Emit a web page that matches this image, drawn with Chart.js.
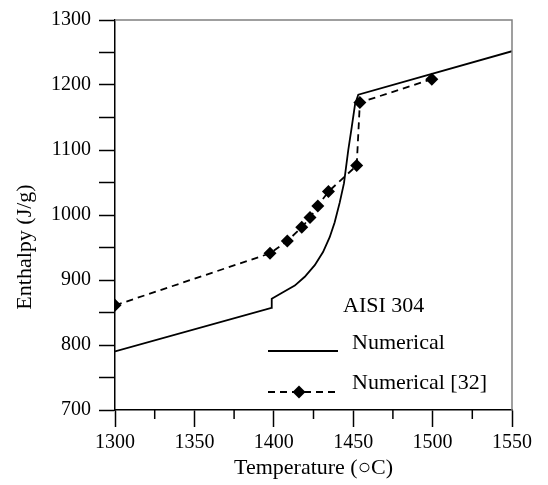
<!DOCTYPE html>
<html>
<head>
<meta charset="utf-8">
<script src="https://cdn.jsdelivr.net/npm/chart.js@4.4.1/dist/chart.umd.min.js"></script>
<style>
html,body{margin:0;padding:0;background:#fff;}
canvas{display:block;}
</style>
</head>
<body>
<canvas id="c" width="548" height="485"></canvas>
<script>
// Data
const numericalT = [1300, 1398.5, 1398.7, 1404.7, 1413.2, 1419.5, 1425.8, 1431, 1435.2, 1438.3, 1441.5, 1444.2, 1446.9, 1449.1, 1451.2, 1453.2, 1550];
const numericalH = [790, 857, 871, 879.7, 891.4, 905, 922.8, 943, 965.8, 988.6, 1019, 1049, 1100, 1135.5, 1171, 1185, 1252];
const refT = [1300, 1397.6, 1408.5, 1417.6, 1422.8, 1427.7, 1434.4, 1452.2, 1454.2, 1499.5];
const refH = [861, 941, 960, 981, 996, 1014, 1036, 1076, 1173, 1209];
const xTicks = [1300, 1350, 1400, 1450, 1500, 1550];
const xMinorTicks = [1325, 1375, 1425, 1475, 1525];
const yTicks = [700, 800, 900, 1000, 1100, 1200, 1300];
const seriesNames = ['Numerical', 'Numerical [32]'];
const annotationText = 'AISI 304';
const xTitle = 'Temperature (\u25CBC)';
const yTitle = 'Enthalpy (J/g)';

const FONT = '"Liberation Serif", "Times New Roman", serif';

const toPts = (xs, ys) => xs.map((x, i) => ({x: x, y: ys[i]}));

const extras = {
  id: 'extras',
  afterDraw(chart) {
    const ctx = chart.ctx;
    const a = chart.chartArea;
    const xs = chart.scales.x;
    ctx.save();
    // top and right frame
    ctx.strokeStyle = '#808080';
    ctx.lineWidth = 1.5;
    ctx.beginPath();
    ctx.moveTo(a.left, a.top);
    ctx.lineTo(a.right, a.top);
    ctx.lineTo(a.right, a.bottom);
    ctx.stroke();
    // minor x ticks
    ctx.strokeStyle = '#000';
    ctx.lineWidth = 1.5;
    xMinorTicks.forEach(v => {
      const px = xs.getPixelForValue(v);
      ctx.beginPath();
      ctx.moveTo(px, a.bottom);
      ctx.lineTo(px, a.bottom + 9);
      ctx.stroke();
    });
    // y title
    ctx.fillStyle = '#000';
    ctx.font = '22px ' + FONT;
    ctx.textAlign = 'center';
    ctx.textBaseline = 'middle';
    ctx.translate(25, a.bottom - 163);
    ctx.rotate(-Math.PI / 2);
    ctx.fillText(yTitle, 0, 0);
    ctx.restore();

    // legend block
    ctx.save();
    ctx.fillStyle = '#000';
    ctx.strokeStyle = '#000';
    ctx.font = '22px ' + FONT;
    ctx.textAlign = 'left';
    ctx.textBaseline = 'middle';
    const lx0 = a.left + 153, lx1 = a.left + 223, tx = a.left + 237;
    ctx.fillText(annotationText, a.left + 228, a.top + 286);
    ctx.fillText(seriesNames[0], tx, a.top + 323);
    ctx.fillText(seriesNames[1], tx, a.top + 363);
    ctx.lineWidth = 1.8;
    ctx.beginPath();
    ctx.moveTo(lx0, a.top + 331);
    ctx.lineTo(lx1, a.top + 331);
    ctx.stroke();
    ctx.setLineDash([7, 5]);
    ctx.beginPath();
    ctx.moveTo(lx0, a.top + 372);
    ctx.lineTo(lx1, a.top + 372);
    ctx.stroke();
    ctx.setLineDash([]);
    const dx = a.left + 184, dy = a.top + 372, r = 6.5;
    ctx.beginPath();
    ctx.moveTo(dx, dy - r);
    ctx.lineTo(dx + r, dy);
    ctx.lineTo(dx, dy + r);
    ctx.lineTo(dx - r, dy);
    ctx.closePath();
    ctx.fill();
    ctx.restore();
  }
};

new Chart(document.getElementById('c'), {
  type: 'line',
  data: {
    datasets: [
      {
        label: seriesNames[0],
        data: toPts(numericalT, numericalH),
        borderColor: '#000',
        borderWidth: 1.8,
        pointRadius: 0,
        tension: 0,
        fill: false
      },
      {
        label: seriesNames[1],
        data: toPts(refT, refH),
        borderColor: '#000',
        backgroundColor: '#000',
        borderWidth: 1.8,
        borderDash: [7, 5],
        pointStyle: 'rectRot',
        pointRadius: 6.5,
        pointBorderWidth: 0,
        pointBackgroundColor: '#000',
        tension: 0,
        fill: false
      }
    ]
  },
  options: {
    responsive: false,
    animation: false,
    devicePixelRatio: 1,
    layout: {padding: {top: 15, right: 36, left: 0, bottom: 0}},
    plugins: {legend: {display: false}, tooltip: {enabled: false}},
    scales: {
      x: {
        type: 'linear',
        min: 1300, max: 1550,
        afterFit: s => { s.height = 75; },
        afterBuildTicks: s => { s.ticks = xTicks.map(v => ({value: v})); },
        ticks: {
          color: '#000',
          font: {family: FONT, size: 20},
          padding: 4,
          maxRotation: 0,
          callback: v => String(v)
        },
        grid: {drawOnChartArea: false, drawTicks: true, tickLength: 17, tickColor: '#000', tickWidth: 1.5},
        border: {display: true, color: '#000', width: 1.5},
        title: {display: true, text: xTitle, color: '#000', font: {family: FONT, size: 22}, padding: {top: 0, bottom: 4}}
      },
      y: {
        type: 'linear',
        min: 700, max: 1300,
        afterFit: s => { s.width = 115; },
        afterBuildTicks: s => {
          const t = [];
          yTicks.forEach((v, i) => { t.push({value: v}); if (i < yTicks.length - 1) t.push({value: v + 50}); });
          s.ticks = t;
        },
        ticks: {
          color: '#000',
          font: {family: FONT, size: 20},
          padding: 8,
          callback: v => (yTicks.includes(v) ? String(v) : '')
        },
        grid: {drawOnChartArea: false, drawTicks: true, tickLength: 16, tickColor: '#000', tickWidth: 1.5},
        border: {display: true, color: '#000', width: 1.5}
      }
    }
  },
  plugins: [extras]
});
</script>
</body>
</html>
